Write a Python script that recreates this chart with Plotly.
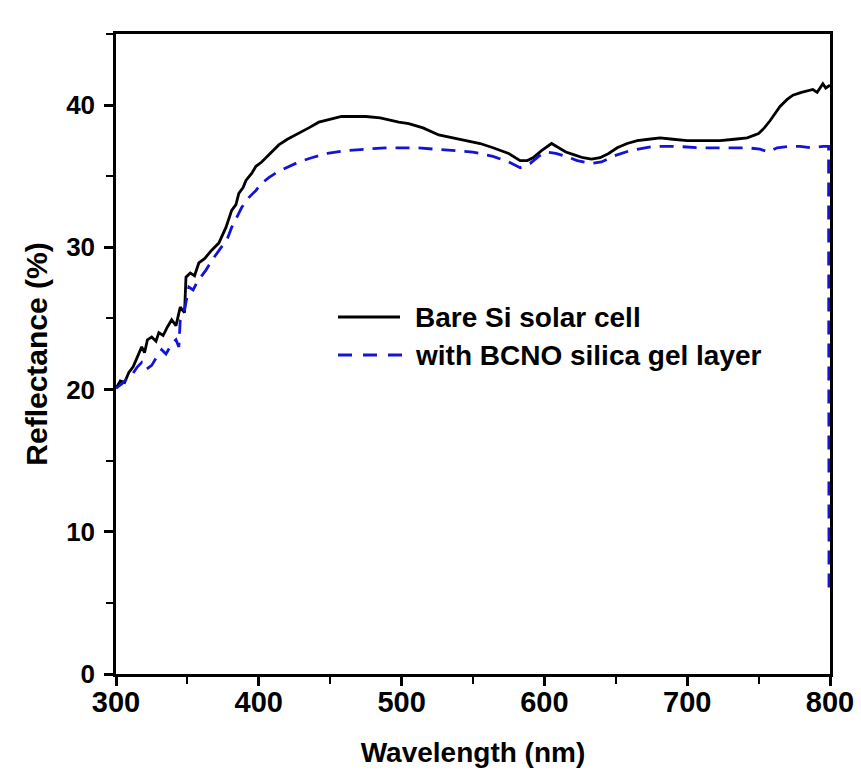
import plotly.graph_objects as go

# ---------------- data ----------------
bare_wl = [300, 303, 306, 309, 312, 315, 318, 320, 322, 325, 328, 330, 333, 336, 339, 342,
           345, 348, 349, 352, 355, 358, 362, 367, 372, 377, 381, 384, 386, 389, 391, 395,
           398, 402, 405, 410, 414, 420, 428, 435, 442, 450, 458, 465, 475, 485, 498, 505,
           515, 526, 535, 545, 555, 564, 575, 583, 588, 592, 598, 605, 610, 615, 621, 627,
           633, 639, 645, 651, 658, 665, 673, 681, 690, 700, 710, 723, 733, 742, 750, 754,
           758, 765, 770, 774, 780, 784, 788, 791, 795, 797, 800]
bare_r = [20.1, 20.6, 20.5, 21.2, 21.6, 22.3, 23.0, 22.6, 23.5, 23.7, 23.4, 24.0, 23.8, 24.4, 24.9, 24.5,
          25.8, 25.4, 27.9, 28.2, 28.0, 28.9, 29.2, 29.8, 30.3, 31.4, 32.6, 33.0, 33.8, 34.2, 34.7, 35.2,
          35.7, 36.0, 36.3, 36.8, 37.2, 37.6, 38.0, 38.4, 38.8, 39.0, 39.2, 39.2, 39.2, 39.1, 38.8, 38.7,
          38.4, 37.9, 37.7, 37.5, 37.3, 37.0, 36.6, 36.1, 36.1, 36.3, 36.8, 37.3, 37.0, 36.7, 36.5, 36.3,
          36.2, 36.3, 36.6, 37.0, 37.3, 37.5, 37.6, 37.7, 37.6, 37.5, 37.5, 37.5, 37.6, 37.7, 38.0, 38.4,
          38.9, 39.9, 40.4, 40.7, 40.9, 41.0, 41.1, 40.9, 41.5, 41.2, 41.4]

bcno_wl = [300, 304, 307, 311, 315, 318, 321, 325, 328, 332, 335, 339, 342, 344, 345, 348,
           351, 354, 357, 363, 368, 374, 378, 381, 385, 388, 393, 398, 402, 407, 413, 419,
           428, 437, 448, 461, 475, 489, 510, 534, 550, 564, 575, 583, 590, 596, 601, 608,
           615, 623, 632, 640, 648, 660, 676, 692, 709, 720, 732, 742, 751, 757, 763, 771,
           779, 787, 795, 799, 799.3]
bcno_r = [20.1, 20.4, 20.7, 21.0, 21.6, 21.9, 21.4, 21.7, 22.2, 22.8, 22.5, 23.2, 23.5, 23.0, 24.9, 25.6,
          27.2, 27.0, 27.6, 28.4, 29.2, 30.0, 30.6, 31.4, 32.2, 32.8, 33.5, 34.0, 34.5, 34.9, 35.3, 35.6,
          36.0, 36.3, 36.6, 36.8, 36.9, 37.0, 37.0, 36.8, 36.7, 36.4, 36.0, 35.6, 35.9, 36.4, 36.7, 36.6,
          36.4, 36.1, 35.9, 36.0, 36.4, 36.8, 37.1, 37.1, 37.0, 37.0, 37.0, 37.0, 36.9, 36.7, 37.0, 37.1,
          37.1, 37.0, 37.1, 37.1, 5.5]

series_names = ["Bare Si solar cell", "with BCNO silica gel layer"]
x_ticks = [300, 400, 500, 600, 700, 800]
y_ticks = [0, 10, 20, 30, 40]

# ---------------- figure ----------------
fig = go.Figure()
fig.add_trace(go.Scatter(x=bare_wl, y=bare_r, mode="lines", name=series_names[0],
                         line=dict(color="black", width=2.8), showlegend=False))
fig.add_trace(go.Scatter(x=bcno_wl, y=bcno_r, mode="lines", name=series_names[1],
                         line=dict(color="#1414d8", width=2.8, dash="14px,9px"), showlegend=False))

font_family = "Liberation Sans, Arial"

# manual legend (line samples + labels)
fig.add_shape(type="line", xref="paper", yref="paper",
              x0=(338-116)/714, x1=(400-116)/714, y0=(674-317)/640, y1=(674-317)/640,
              line=dict(color="black", width=2.8))
fig.add_shape(type="line", xref="paper", yref="paper",
              x0=(338-116)/714, x1=(402-116)/714, y0=(674-355)/640, y1=(674-355)/640,
              line=dict(color="#1414d8", width=2.8, dash="14px,11px"))
for i, yy in enumerate([317, 355]):
    fig.add_annotation(text="<b>" + series_names[i] + "</b>", xref="paper", yref="paper",
                       x=(413-116)/714, y=(674-yy)/640, xanchor="left", yanchor="middle",
                       showarrow=False, font=dict(family=font_family, size=28, color="black"))

fig.update_layout(
    width=861, height=771,
    margin=dict(l=116, r=31, t=34, b=97, autoexpand=False),
    paper_bgcolor="white", plot_bgcolor="white",
    showlegend=False,
    xaxis=dict(range=[300, 800], tickmode="array", tickvals=x_ticks,
               ticktext=["<b>%d</b>" % v for v in x_ticks],
               ticks="outside", ticklen=9, tickwidth=2.5,
               tickcolor="black", showline=True, linecolor="black", linewidth=2.5, mirror=True,
               showgrid=False, zeroline=False, ticklabelstandoff=-9,
               minor=dict(dtick=50, tick0=300, ticks="outside", ticklen=7, tickwidth=2, tickcolor="black"),
               tickfont=dict(family=font_family, size=29, color="black"),
               title=dict(text="<b>Wavelength (nm)</b>", font=dict(family=font_family, size=28, color="black"),
                          standoff=26)),
    yaxis=dict(range=[0, 45], tickmode="array", tickvals=y_ticks,
               ticktext=["<b>%d</b>" % v for v in y_ticks],
               ticks="outside", ticklen=9, tickwidth=2.5,
               tickcolor="black", showline=True, linecolor="black", linewidth=2.5, mirror=True,
               showgrid=False, zeroline=False, ticklabelstandoff=4,
               minor=dict(dtick=5, tick0=0, ticks="outside", ticklen=7, tickwidth=2, tickcolor="black"),
               tickfont=dict(family=font_family, size=26, color="black"),
               title=dict(text="<b>Reflectance (%)</b>", font=dict(family=font_family, size=30, color="black"),
                          standoff=10)),
)

fig.write_html("out.html")
